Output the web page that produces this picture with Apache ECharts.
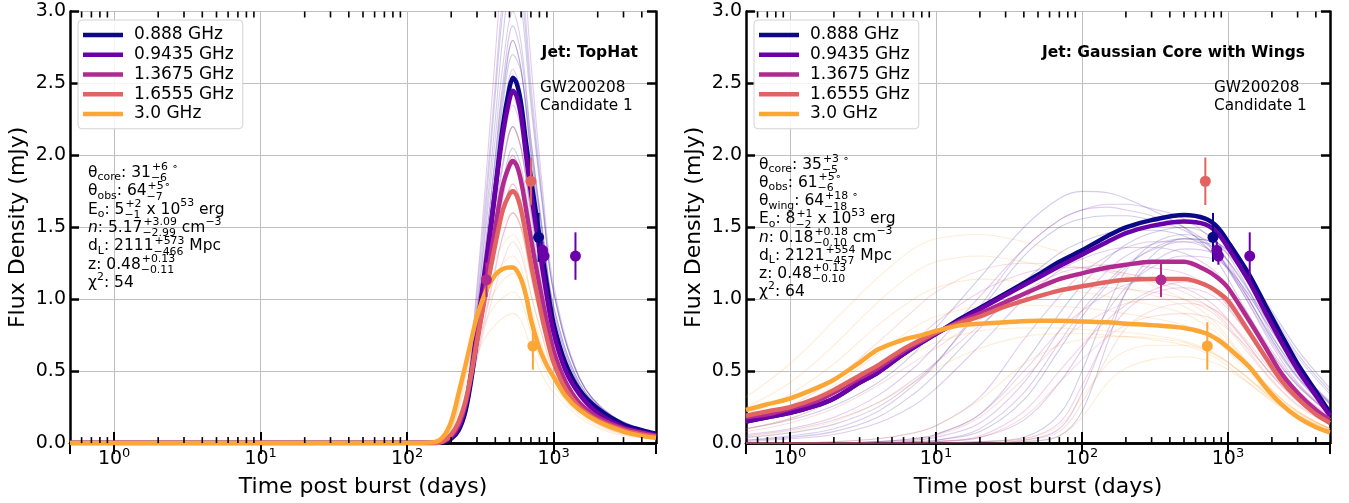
<!DOCTYPE html>
<html><head><meta charset="utf-8">
<script src="https://cdn.jsdelivr.net/npm/echarts@6/dist/echarts.min.js"></script>
<style>html,body{margin:0;padding:0;background:#fff}#c{width:1349px;height:503px}</style>
</head><body><div id="c"></div>
<script>
// ---------------- DATA ----------------
const FREQS = ['0.888 GHz', '0.9435 GHz', '1.3675 GHz', '1.6555 GHz', '3.0 GHz'];
const COLORS = ['#0d0887', '#6a00a8', '#b12a90', '#e16462', '#fca636'];
const Y_TICKS = [0, 0.5, 1.0, 1.5, 2.0, 2.5, 3.0];
const X_MINOR_TICKS = [0.6, 0.7, 0.8, 0.9, 2, 3, 4, 5, 6, 7, 8, 9, 20, 30, 40, 50, 60, 70, 80, 90,
  200, 300, 400, 500, 600, 700, 800, 900, 2000, 3000, 4000];

// TopHat jet (left panel) - best-fit curves
const TH_T = [0.5, 100, 150, 175, 200, 225, 250, 275, 300, 350, 400, 450, 500, 527, 560, 600, 650, 700, 800, 900, 1000, 1200, 1500, 2000, 3000, 4000, 5000];
const TH_0888 = [0, 0, 0, 0.005, 0.03, 0.09, 0.22, 0.45, 0.74, 1.27, 1.76, 2.20, 2.47, 2.54, 2.50, 2.36, 2.08, 1.84, 1.44, 1.10, 0.83, 0.56, 0.37, 0.24, 0.13, 0.09, 0.065];
const TH_09435 = [0, 0, 0, 0.008, 0.04, 0.11, 0.26, 0.50, 0.80, 1.30, 1.76, 2.15, 2.39, 2.45, 2.41, 2.27, 1.99, 1.74, 1.35, 1.02, 0.77, 0.51, 0.34, 0.21, 0.11, 0.075, 0.055];
const TH_13675 = [0, 0, 0, 0.01, 0.05, 0.13, 0.27, 0.48, 0.72, 1.14, 1.50, 1.79, 1.93, 1.96, 1.93, 1.82, 1.62, 1.42, 1.10, 0.84, 0.64, 0.43, 0.28, 0.18, 0.10, 0.07, 0.05];
const TH_16555 = [0, 0, 0, 0.012, 0.06, 0.15, 0.29, 0.49, 0.71, 1.08, 1.38, 1.62, 1.73, 1.75, 1.72, 1.62, 1.44, 1.25, 0.96, 0.73, 0.56, 0.38, 0.25, 0.16, 0.09, 0.06, 0.045];
const TH_30 = [0, 0, 0.005, 0.04, 0.15, 0.35, 0.54, 0.72, 0.88, 1.07, 1.17, 1.21, 1.22, 1.22, 1.20, 1.14, 1.02, 0.86, 0.66, 0.54, 0.46, 0.33, 0.23, 0.15, 0.08, 0.05, 0.035];

// TopHat posterior samples (thin lines)
const TH_S_T = [0.5, 150, 200, 250, 300, 350, 400, 450, 527, 600, 700, 850, 1000, 1500, 2500, 5000];
const TH_S_0888 = [
  [0, 0, 0.03, 0.25, 0.92, 1.62, 2.25, 2.82, 3.30, 3.05, 2.35, 1.60, 1.05, 0.45, 0.19, 0.07],
  [0, 0, 0.03, 0.24, 0.84, 1.45, 2.00, 2.50, 2.90, 2.70, 2.10, 1.45, 0.95, 0.42, 0.18, 0.07],
  [0, 0, 0.03, 0.22, 0.68, 1.13, 1.55, 1.92, 2.20, 2.05, 1.62, 1.12, 0.75, 0.34, 0.15, 0.06],
  [0, 0, 0.02, 0.18, 0.70, 1.30, 1.85, 2.35, 2.70, 2.58, 2.05, 1.42, 0.95, 0.42, 0.18, 0.07],
  [0, 0, 0.03, 0.23, 0.78, 1.38, 1.92, 2.40, 2.80, 2.60, 2.02, 1.38, 0.90, 0.40, 0.17, 0.06],
  [0, 0, 0.02, 0.20, 0.62, 1.05, 1.45, 1.80, 2.05, 1.92, 1.52, 1.05, 0.70, 0.32, 0.14, 0.05],
  [0, 0, 0.03, 0.26, 0.98, 1.72, 2.42, 3.00, 3.45, 3.18, 2.42, 1.62, 1.06, 0.45, 0.19, 0.07]
];
const TH_S_09435 = [
  [0, 0, 0.04, 0.30, 1.05, 1.80, 2.50, 3.10, 3.60, 3.30, 2.50, 1.65, 1.05, 0.45, 0.18, 0.06],
  [0, 0, 0.04, 0.28, 0.92, 1.55, 2.12, 2.62, 3.00, 2.78, 2.12, 1.42, 0.92, 0.40, 0.16, 0.06],
  [0, 0, 0.04, 0.25, 0.76, 1.24, 1.68, 2.05, 2.35, 2.18, 1.68, 1.15, 0.75, 0.33, 0.14, 0.05],
  [0, 0, 0.04, 0.22, 0.64, 1.04, 1.40, 1.70, 1.95, 1.82, 1.42, 0.98, 0.64, 0.29, 0.12, 0.05],
  [0, 0, 0.04, 0.27, 0.88, 1.45, 1.98, 2.45, 2.80, 2.60, 1.98, 1.32, 0.86, 0.38, 0.15, 0.06],
  [0, 0, 0.04, 0.26, 0.82, 1.36, 1.84, 2.25, 2.60, 2.42, 1.85, 1.25, 0.82, 0.36, 0.15, 0.05],
  [0, 0, 0.05, 0.32, 1.10, 1.92, 2.70, 3.35, 3.90, 3.55, 2.65, 1.72, 1.10, 0.46, 0.18, 0.06]
];
const TH_S_13675 = [
  [0, 0, 0.05, 0.30, 0.80, 1.30, 1.75, 2.12, 2.40, 2.22, 1.72, 1.18, 0.78, 0.34, 0.14, 0.05],
  [0, 0, 0.05, 0.28, 0.70, 1.12, 1.48, 1.78, 2.00, 1.86, 1.45, 1.00, 0.66, 0.29, 0.12, 0.05],
  [0, 0, 0.05, 0.25, 0.60, 0.92, 1.20, 1.44, 1.60, 1.50, 1.18, 0.82, 0.55, 0.25, 0.10, 0.04],
  [0, 0, 0.05, 0.29, 0.75, 1.20, 1.62, 1.95, 2.20, 2.05, 1.60, 1.10, 0.72, 0.32, 0.13, 0.05],
  [0, 0, 0.05, 0.27, 0.66, 1.02, 1.34, 1.62, 1.80, 1.68, 1.32, 0.91, 0.61, 0.27, 0.11, 0.04]
];
const TH_S_16555 = [
  [0, 0, 0.06, 0.32, 0.78, 1.22, 1.62, 1.96, 2.20, 2.04, 1.58, 1.08, 0.72, 0.32, 0.13, 0.05],
  [0, 0, 0.06, 0.30, 0.68, 1.04, 1.35, 1.60, 1.80, 1.67, 1.30, 0.90, 0.60, 0.27, 0.11, 0.04],
  [0, 0, 0.06, 0.28, 0.58, 0.86, 1.08, 1.26, 1.40, 1.31, 1.03, 0.72, 0.49, 0.22, 0.09, 0.04],
  [0, 0, 0.06, 0.31, 0.73, 1.12, 1.48, 1.78, 2.00, 1.86, 1.44, 0.99, 0.66, 0.29, 0.12, 0.05],
  [0, 0, 0.06, 0.29, 0.63, 0.95, 1.22, 1.44, 1.60, 1.49, 1.16, 0.81, 0.54, 0.25, 0.10, 0.04]
];
const TH_S_30 = [
  [0, 0, 0.12, 0.55, 0.95, 1.22, 1.40, 1.52, 1.60, 1.50, 1.15, 0.78, 0.57, 0.28, 0.11, 0.04],
  [0, 0, 0.11, 0.50, 0.82, 1.04, 1.16, 1.25, 1.30, 1.22, 0.94, 0.65, 0.48, 0.24, 0.10, 0.04],
  [0, 0, 0.10, 0.45, 0.70, 0.86, 0.96, 1.01, 1.05, 0.99, 0.77, 0.53, 0.40, 0.20, 0.08, 0.03],
  [0, 0, 0.09, 0.40, 0.62, 0.75, 0.82, 0.87, 0.90, 0.85, 0.66, 0.46, 0.35, 0.18, 0.07, 0.03],
  [0, 0, 0.12, 0.52, 0.88, 1.12, 1.28, 1.38, 1.45, 1.36, 1.04, 0.72, 0.52, 0.26, 0.10, 0.04],
  [0, 0, 0.10, 0.47, 0.76, 0.95, 1.06, 1.13, 1.18, 1.11, 0.86, 0.59, 0.44, 0.22, 0.09, 0.03]
];

// Gaussian core with wings jet (right panel) - best-fit curves
const GA_T = [0.5, 0.7, 1, 1.5, 2, 3, 4, 6, 8, 10, 15, 20, 30, 50, 70, 100, 150, 200, 300, 500, 700, 850, 1000, 1400, 1800, 2300, 3000, 4000, 5000];
const GA_0888 = [0.15, 0.18, 0.21, 0.26, 0.31, 0.42, 0.49, 0.62, 0.70, 0.76, 0.87, 0.94, 1.04, 1.17, 1.26, 1.34, 1.44, 1.50, 1.55, 1.585, 1.56, 1.50, 1.40, 1.17, 0.96, 0.76, 0.55, 0.36, 0.21];
const GA_09435 = [0.15, 0.18, 0.21, 0.26, 0.31, 0.42, 0.49, 0.62, 0.70, 0.76, 0.86, 0.93, 1.03, 1.15, 1.23, 1.31, 1.40, 1.46, 1.51, 1.54, 1.52, 1.46, 1.36, 1.12, 0.91, 0.71, 0.51, 0.33, 0.19];
const GA_13675 = [0.18, 0.20, 0.24, 0.29, 0.35, 0.45, 0.52, 0.64, 0.71, 0.765, 0.85, 0.90, 0.98, 1.08, 1.14, 1.18, 1.22, 1.24, 1.26, 1.26, 1.205, 1.15, 1.08, 0.85, 0.67, 0.49, 0.35, 0.23, 0.16];
const GA_16555 = [0.19, 0.22, 0.25, 0.31, 0.37, 0.47, 0.54, 0.655, 0.72, 0.77, 0.84, 0.88, 0.95, 1.02, 1.06, 1.09, 1.12, 1.135, 1.14, 1.14, 1.10, 1.05, 0.99, 0.77, 0.60, 0.44, 0.31, 0.20, 0.14];
const GA_30 = [0.23, 0.27, 0.31, 0.38, 0.44, 0.56, 0.65, 0.72, 0.75, 0.78, 0.82, 0.83, 0.84, 0.85, 0.85, 0.845, 0.84, 0.83, 0.82, 0.80, 0.765, 0.72, 0.665, 0.53, 0.39, 0.275, 0.18, 0.11, 0.075];

// Gaussian posterior samples (thin lines)
const GA_S_T = [0.5, 1, 2, 4, 7, 10, 20, 40, 70, 100, 150, 200, 300, 500, 800, 1200, 2000, 3000, 5000];
const GA_S_0888 = [
  [0.10, 0.16, 0.26, 0.42, 0.62, 0.80, 1.15, 1.50, 1.70, 1.75, 1.74, 1.70, 1.62, 1.50, 1.30, 1.00, 0.62, 0.40, 0.20],
  [0, 0, 0, 0.01, 0.03, 0.06, 0.20, 0.55, 0.90, 1.10, 1.28, 1.38, 1.46, 1.50, 1.42, 1.18, 0.75, 0.48, 0.24],
  [0, 0, 0, 0, 0, 0, 0.01, 0.04, 0.20, 0.50, 0.95, 1.20, 1.38, 1.45, 1.38, 1.15, 0.80, 0.52, 0.28],
  [0.02, 0.04, 0.08, 0.18, 0.34, 0.48, 0.80, 1.12, 1.32, 1.40, 1.46, 1.48, 1.48, 1.44, 1.32, 1.08, 0.70, 0.45, 0.22],
  [0, 0, 0, 0, 0.01, 0.02, 0.08, 0.30, 0.65, 0.88, 1.10, 1.22, 1.35, 1.42, 1.40, 1.25, 0.92, 0.65, 0.38],
  [0, 0, 0, 0, 0, 0, 0, 0.01, 0.05, 0.22, 0.70, 1.05, 1.30, 1.42, 1.40, 1.24, 0.90, 0.62, 0.36],
  [0.04, 0.07, 0.13, 0.25, 0.42, 0.56, 0.92, 1.30, 1.50, 1.56, 1.58, 1.58, 1.55, 1.48, 1.34, 1.10, 0.74, 0.50, 0.27]
];
const GA_S_09435 = [
  [0.06, 0.10, 0.18, 0.33, 0.52, 0.68, 1.02, 1.35, 1.55, 1.62, 1.64, 1.62, 1.58, 1.50, 1.35, 1.08, 0.68, 0.42, 0.21],
  [0, 0, 0.01, 0.03, 0.07, 0.12, 0.32, 0.72, 1.02, 1.18, 1.30, 1.36, 1.40, 1.40, 1.32, 1.10, 0.72, 0.46, 0.23],
  [0, 0, 0, 0, 0, 0, 0, 0.02, 0.10, 0.35, 0.78, 1.05, 1.25, 1.35, 1.32, 1.12, 0.78, 0.52, 0.28],
  [0.01, 0.03, 0.06, 0.14, 0.26, 0.38, 0.68, 1.00, 1.20, 1.28, 1.34, 1.36, 1.36, 1.32, 1.20, 0.98, 0.64, 0.41, 0.20],
  [0, 0, 0, 0.01, 0.02, 0.04, 0.14, 0.42, 0.78, 1.00, 1.20, 1.30, 1.38, 1.42, 1.36, 1.16, 0.80, 0.52, 0.27],
  [0, 0, 0, 0, 0, 0.01, 0.04, 0.16, 0.42, 0.65, 0.92, 1.08, 1.22, 1.30, 1.28, 1.12, 0.78, 0.52, 0.29],
  [0, 0, 0, 0, 0.01, 0.02, 0.10, 0.35, 0.70, 0.92, 1.12, 1.24, 1.34, 1.40, 1.38, 1.22, 0.88, 0.60, 0.34],
  [0.02, 0.05, 0.10, 0.22, 0.40, 0.55, 0.95, 1.35, 1.55, 1.62, 1.66, 1.66, 1.63, 1.56, 1.40, 1.12, 0.72, 0.46, 0.24]
];
const GA_S_13675 = [
  [0.05, 0.09, 0.16, 0.28, 0.44, 0.56, 0.82, 1.05, 1.18, 1.22, 1.24, 1.24, 1.22, 1.18, 1.06, 0.84, 0.52, 0.32, 0.16],
  [0, 0, 0, 0.01, 0.03, 0.06, 0.20, 0.50, 0.78, 0.92, 1.04, 1.10, 1.14, 1.14, 1.06, 0.86, 0.55, 0.35, 0.18],
  [0, 0, 0, 0, 0, 0, 0.01, 0.03, 0.14, 0.40, 0.75, 0.92, 1.04, 1.08, 1.02, 0.84, 0.56, 0.36, 0.19],
  [0.10, 0.17, 0.30, 0.50, 0.70, 0.84, 1.05, 1.18, 1.22, 1.22, 1.20, 1.18, 1.14, 1.08, 0.96, 0.76, 0.47, 0.29, 0.14],
  [0, 0, 0, 0, 0, 0.01, 0.05, 0.22, 0.50, 0.68, 0.86, 0.96, 1.06, 1.12, 1.08, 0.92, 0.62, 0.40, 0.21]
];
const GA_S_16555 = [
  [0.08, 0.14, 0.24, 0.40, 0.56, 0.66, 0.86, 1.00, 1.06, 1.08, 1.08, 1.07, 1.05, 1.00, 0.90, 0.70, 0.43, 0.26, 0.13],
  [0, 0, 0, 0.01, 0.02, 0.05, 0.18, 0.45, 0.70, 0.82, 0.92, 0.97, 1.00, 1.00, 0.93, 0.75, 0.47, 0.30, 0.15],
  [0, 0, 0, 0, 0, 0, 0, 0.02, 0.08, 0.28, 0.60, 0.80, 0.92, 0.97, 0.93, 0.77, 0.50, 0.32, 0.17],
  [0.15, 0.26, 0.44, 0.70, 0.92, 1.05, 1.20, 1.25, 1.24, 1.22, 1.19, 1.16, 1.12, 1.05, 0.92, 0.72, 0.44, 0.27, 0.13],
  [0, 0, 0, 0, 0, 0.01, 0.04, 0.18, 0.42, 0.58, 0.74, 0.82, 0.88, 0.90, 0.86, 0.72, 0.48, 0.31, 0.16]
];
const GA_S_30 = [
  [0.20, 0.34, 0.55, 0.82, 1.00, 1.08, 1.14, 1.12, 1.08, 1.05, 1.02, 0.99, 0.96, 0.90, 0.78, 0.60, 0.36, 0.22, 0.10],
  [0.32, 0.55, 0.85, 1.15, 1.35, 1.42, 1.45, 1.40, 1.33, 1.28, 1.22, 1.17, 1.10, 1.00, 0.85, 0.63, 0.37, 0.22, 0.10],
  [0.10, 0.17, 0.30, 0.48, 0.62, 0.70, 0.78, 0.80, 0.80, 0.79, 0.78, 0.77, 0.75, 0.71, 0.63, 0.50, 0.31, 0.19, 0.09],
  [0, 0, 0.01, 0.03, 0.07, 0.12, 0.30, 0.55, 0.68, 0.72, 0.74, 0.74, 0.73, 0.70, 0.62, 0.50, 0.31, 0.19, 0.09],
  [0, 0, 0, 0, 0, 0, 0.01, 0.03, 0.12, 0.32, 0.55, 0.64, 0.68, 0.68, 0.62, 0.50, 0.32, 0.20, 0.10],
  [0.04, 0.08, 0.15, 0.28, 0.42, 0.52, 0.66, 0.74, 0.76, 0.76, 0.75, 0.74, 0.72, 0.68, 0.60, 0.47, 0.29, 0.18, 0.08],
  [0.25, 0.42, 0.68, 0.98, 1.18, 1.26, 1.30, 1.26, 1.20, 1.16, 1.12, 1.08, 1.03, 0.95, 0.82, 0.62, 0.37, 0.22, 0.10],
  [0, 0, 0, 0, 0, 0, 0, 0.01, 0.05, 0.18, 0.42, 0.52, 0.58, 0.60, 0.56, 0.46, 0.30, 0.19, 0.09],
  [0.14, 0.24, 0.40, 0.62, 0.80, 0.88, 0.95, 0.96, 0.95, 0.94, 0.92, 0.90, 0.87, 0.82, 0.72, 0.56, 0.34, 0.21, 0.10]
];

// Observed flux densities: [time (days), flux (mJy), error (mJy)]
const OBS_0888 = [[790, 1.43, 0.17]];
const OBS_09435 = [[840, 1.34, 0.06], [860, 1.30, 0.06], [1410, 1.30, 0.165]];
const OBS_13675 = [[348, 1.135, 0.12]];
const OBS_16555 = [[700, 1.82, 0.165]];
const OBS_30 = [[722, 0.675, 0.165]];

// Text
const TITLES = ['Jet: TopHat', 'Jet: Gaussian Core with Wings'];
const EVENT = ['GW200208', 'Candidate 1'];
const X_NAME = 'Time post burst (days)';
const Y_NAME = 'Flux Density (mJy)';
const PARAMS_L = [
  [['t', 'θ'], ['b', 'core'], ['t', ': 31'], ['s', '+6', '−6'], ['p', ' ∘']],
  [['t', 'θ'], ['b', 'obs'], ['t', ': 64'], ['s', '+5', '−7'], ['p', '∘']],
  [['t', 'E'], ['b', 'o'], ['t', ': 5'], ['s', '+2', '−1'], ['t', ' x 10'], ['p', '53'], ['t', ' erg']],
  [['i', 'n'], ['t', ': 5.17'], ['s', '+3.09', '−2.99'], ['t', ' cm'], ['p', '−3']],
  [['t', 'd'], ['b', 'L'], ['t', ': 2111'], ['s', '+573', '−466'], ['t', ' Mpc']],
  [['t', 'z: 0.48'], ['s', '+0.13', '−0.11']],
  [['t', 'χ'], ['p', '2'], ['t', ': 54']]
];
const PARAMS_R = [
  [['t', 'θ'], ['b', 'core'], ['t', ': 35'], ['s', '+3', '−5'], ['p', ' ∘']],
  [['t', 'θ'], ['b', 'obs'], ['t', ': 61'], ['s', '+5', '−6'], ['p', '∘']],
  [['t', 'θ'], ['b', 'wing'], ['t', ': 64'], ['s', '+18', '−18'], ['p', ' ∘']],
  [['t', 'E'], ['b', 'o'], ['t', ': 8'], ['s', '+1', '−2'], ['t', ' x 10'], ['p', '53'], ['t', ' erg']],
  [['i', 'n'], ['t', ': 0.18'], ['s', '+0.18', '−0.10'], ['t', ' cm'], ['p', '−3']],
  [['t', 'd'], ['b', 'L'], ['t', ': 2121'], ['s', '+554', '−457'], ['t', ' Mpc']],
  [['t', 'z: 0.48'], ['s', '+0.13', '−0.10']],
  [['t', 'χ'], ['p', '2'], ['t', ': 64']]
];

// ---------------- BUILD ----------------
const FONT = '"DejaVu Sans", sans-serif';
const GRIDS = [
  { left: 70, top: 11.5, width: 586, height: 435 },
  { left: 746, top: 11.5, width: 584, height: 435 }
];
const pairs = (T, V) => T.map((t, i) => [t, V[i]]);

const xAxes = [], yAxes = [];
GRIDS.forEach((g, gi) => {
  const base = {
    type: 'log', logBase: 10, min: 0.5, max: 5000, gridIndex: gi,
    axisLine: { show: true, lineStyle: { color: '#000', width: 2.5 } },
    axisTick: { show: true, inside: true, length: 11, lineStyle: { color: '#000', width: 2 } },
    minorTick: { show: false }
  };
  xAxes.push(Object.assign({}, base, {
    position: 'bottom', name: X_NAME, nameLocation: 'middle', nameGap: 28,
    nameTextStyle: { fontSize: 22, color: '#000', fontFamily: FONT },
    splitLine: { show: true, lineStyle: { color: '#bfbfbf', width: 1 } },
    axisLabel: {
      show: true, margin: 4, color: '#000', fontSize: 19, fontFamily: FONT, lineHeight: 24,
      showMinLabel: false, showMaxLabel: false,
      formatter: v => {
        const e = Math.log10(v), r = Math.round(e);
        if (Math.abs(e - r) > 1e-6) return '';
        return '10{s|' + r + '}';
      },
      rich: { s: { fontSize: 13, color: '#000', fontFamily: FONT, verticalAlign: 'top', lineHeight: 13 } }
    }
  }));
  xAxes.push(Object.assign({}, base, {
    position: 'top', axisLabel: { show: false }, splitLine: { show: false }
  }));
  const ybase = {
    type: 'value', min: 0, max: 3, interval: 0.5, gridIndex: gi,
    axisLine: { show: true, lineStyle: { color: '#000', width: 2.5 } },
    axisTick: { show: true, inside: true, length: 9, lineStyle: { color: '#000', width: 2.5 } }
  };
  yAxes.push(Object.assign({}, ybase, {
    position: 'left', name: Y_NAME, nameLocation: 'middle', nameGap: 41, nameRotate: 90,
    nameTextStyle: { fontSize: 22, color: '#000', fontFamily: FONT },
    splitLine: { show: true, lineStyle: { color: '#bfbfbf', width: 1 } },
    axisLabel: { show: true, margin: 4, color: '#000', fontSize: 19, fontFamily: FONT,
      formatter: v => Y_TICKS.indexOf(v) >= 0 ? v.toFixed(1) : '' }
  }));
  yAxes.push(Object.assign({}, ybase, {
    position: 'right', axisLabel: { show: false }, splitLine: { show: false }
  }));
});

const series = [];
function addThin(gi, T, lists, color) {
  lists.forEach(V => series.push({
    type: 'line', xAxisIndex: gi * 2, yAxisIndex: gi * 2, data: pairs(T, V),
    symbol: 'none', smooth: 0.35, silent: true, z: 2,
    lineStyle: { color: color, width: 1.1, opacity: 0.2 }, itemStyle: { color: color }
  }));
}
function addThick(gi, T, V, i) {
  series.push({
    type: 'line', name: FREQS[i], xAxisIndex: gi * 2, yAxisIndex: gi * 2, data: pairs(T, V),
    symbol: 'none', smooth: 0.3, silent: true, z: 3,
    lineStyle: { color: COLORS[i], width: 4.5 }, itemStyle: { color: COLORS[i] }
  });
}
function addObs(gi, pts, i) {
  series.push({
    type: 'custom', xAxisIndex: gi * 2, yAxisIndex: gi * 2, silent: true, z: 4,
    data: pts.map(p => [p[0], p[1], p[2]]), encode: { x: 0, y: 1 },
    renderItem: (params, api) => {
      const a = api.coord([api.value(0), api.value(1) - api.value(2)]);
      const b = api.coord([api.value(0), api.value(1) + api.value(2)]);
      return { type: 'line', shape: { x1: a[0], y1: a[1], x2: b[0], y2: b[1] },
        style: { stroke: COLORS[i], lineWidth: 2 } };
    }
  });
  series.push({
    type: 'scatter', xAxisIndex: gi * 2, yAxisIndex: gi * 2, silent: true, z: 5,
    data: pts.map(p => [p[0], p[1]]), symbol: 'circle', symbolSize: 11,
    itemStyle: { color: COLORS[i], opacity: 1 }
  });
}
function addMinor(gi) {
  series.push({
    type: 'custom', xAxisIndex: gi * 2, yAxisIndex: gi * 2, silent: true, z: 6, clip: false,
    data: X_MINOR_TICKS.map(v => [v, 0]), encode: { x: 0, y: 1 },
    renderItem: (params, api) => {
      const x = api.coord([api.value(0), 0])[0];
      const cs = params.coordSys;
      const yb = cs.y + cs.height, yt = cs.y;
      return { type: 'group', children: [
        { type: 'line', shape: { x1: x, y1: yb, x2: x, y2: yb - 6 }, style: { stroke: '#000', lineWidth: 1.6 } },
        { type: 'line', shape: { x1: x, y1: yt, x2: x, y2: yt + 6 }, style: { stroke: '#000', lineWidth: 1.6 } }
      ] };
    }
  });
}

// left panel
addThin(0, TH_S_T, TH_S_0888, COLORS[0]);
addThin(0, TH_S_T, TH_S_09435, COLORS[1]);
addThin(0, TH_S_T, TH_S_13675, COLORS[2]);
addThin(0, TH_S_T, TH_S_16555, COLORS[3]);
addThin(0, TH_S_T, TH_S_30, COLORS[4]);
[TH_0888, TH_09435, TH_13675, TH_16555, TH_30].forEach((V, i) => addThick(0, TH_T, V, i));
// right panel
addThin(1, GA_S_T, GA_S_0888, COLORS[0]);
addThin(1, GA_S_T, GA_S_09435, COLORS[1]);
addThin(1, GA_S_T, GA_S_13675, COLORS[2]);
addThin(1, GA_S_T, GA_S_16555, COLORS[3]);
addThin(1, GA_S_T, GA_S_30, COLORS[4]);
[GA_0888, GA_09435, GA_13675, GA_16555, GA_30].forEach((V, i) => addThick(1, GA_T, V, i));
// observations on both panels
[0, 1].forEach(gi => {
  [OBS_0888, OBS_09435, OBS_13675, OBS_16555, OBS_30].forEach((P, i) => addObs(gi, P, i));
  addMinor(gi);
});

// text helpers
const mctx = document.createElement('canvas').getContext('2d');
function tw(s, font) { mctx.font = font; return mctx.measureText(s).width; }
function txt(s, x, y, font, align) {
  return { type: 'text', x: x, y: y, silent: true, z: 100,
    style: { text: s, font: font, fill: '#000', textAlign: align || 'left', textVerticalAlign: 'middle',
      align: align || 'left', verticalAlign: 'middle' } };
}
function buildParams(lines, x0, y0, dy) {
  const F = 15.5, f = 10.9;
  const mainFont = F + 'px ' + FONT, smallFont = f + 'px ' + FONT;
  const els = [];
  lines.forEach((line, li) => {
    let x = x0; const y = y0 + li * dy;
    line.forEach(tok => {
      const k = tok[0];
      if (k === 't' || k === 'i') {
        const font = (k === 'i' ? 'italic ' : '') + mainFont;
        els.push(txt(tok[1], x, y, font)); x += tw(tok[1], font);
      } else if (k === 'b') {
        els.push(txt(tok[1], x, y + 4.5, smallFont)); x += tw(tok[1], smallFont);
      } else if (k === 'p') {
        els.push(txt(tok[1], x, y - 6, smallFont)); x += tw(tok[1], smallFont);
      } else if (k === 's') {
        els.push(txt(tok[1], x + 1, y - 5.5, smallFont));
        els.push(txt(tok[2], x, y + 5.5, smallFont));
        x += Math.max(tw(tok[1], smallFont), tw(tok[2], smallFont)) + 1;
      }
    });
  });
  return els;
}

const graphics = [].concat(
  buildParams(PARAMS_L, 88, 173, 18.3),
  buildParams(PARAMS_R, 759, 165, 18.15),
  [
    txt(TITLES[0], 638, 53, 'bold 15.5px ' + FONT, 'right'),
    txt(TITLES[1], 1305, 53, 'bold 15.5px ' + FONT, 'right'),
    txt(EVENT[0], 540, 88, '15.3px ' + FONT), txt(EVENT[1], 540, 106, '15.3px ' + FONT),
    txt(EVENT[0], 1214, 88, '15.3px ' + FONT), txt(EVENT[1], 1214, 106, '15.3px ' + FONT)
  ]
);

const legendBase = {
  orient: 'vertical', top: 20, data: FREQS, icon: 'rect', itemWidth: 40, itemHeight: 4.5, itemGap: 0,
  padding: [5, 9, 5, 5], backgroundColor: 'rgba(255,255,255,0.85)', borderColor: '#d3d3d3', borderWidth: 1,
  borderRadius: 4, selectedMode: false, itemStyle: { borderWidth: 0 },
  textStyle: { fontSize: 17, color: '#000', fontFamily: FONT, lineHeight: 19.75, padding: [0, 0, 0, 6] }
};

const chart = echarts.init(document.getElementById('c'), null, { renderer: 'canvas' });
chart.setOption({
  animation: false,
  backgroundColor: '#fff',
  textStyle: { fontFamily: FONT },
  grid: GRIDS.map(g => Object.assign({ containLabel: false, show: false }, g)),
  xAxis: xAxes,
  yAxis: yAxes,
  legend: [Object.assign({ left: 78 }, legendBase), Object.assign({ left: 754 }, legendBase)],
  series: series,
  graphic: graphics
});
</script></body></html>
